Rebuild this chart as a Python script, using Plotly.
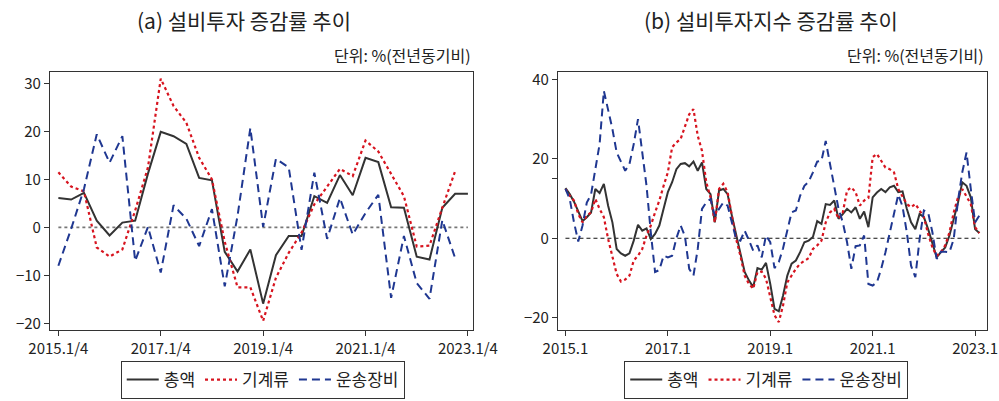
import plotly.graph_objects as go

# ---------------- data ----------------
q_tick_labels = ["2015.1/4", "2017.1/4", "2019.1/4", "2021.1/4", "2023.1/4"]
q_tick_pos = [0, 8, 16, 24, 32]

total_a = [6.1, 5.8, 7.2, 1.4, -1.7, 1.0, 1.4, 11.2, 19.9, 19.0, 17.4, 10.3, 9.8, -5.1, -9.2,
           -4.6, -15.9, -5.8, -1.8, -1.8, 6.5, 5.1, 10.9, 6.7, 14.5, 13.6, 4.2, 4.1, -6.1, -6.7,
           4.1, 7.0, 7.0]
mach_a = [11.5, 8.5, 7.5, -4.2, -6.1, -4.6, 3.5, 12.5, 31.0, 25.3, 21.8, 14.5, 10.0, -3.0, -12.5,
          -12.5, -19.5, -10.5, -5.3, -1.1, 4.8, 8.6, 12.2, 10.7, 18.1, 15.8, 11.0, 6.5, -4.0, -3.8,
          4.1, 11.7]
trans_a = [-8.0, -0.3, 8.0, 19.4, 13.5, 19.0, -7.0, 0.1, -9.4, 4.6, 1.8, -3.9, 3.8, -12.3, 2.4,
           20.7, 0.1, 14.3, 12.5, -4.7, 11.4, -2.4, 6.1, -1.5, 3.0, 6.8, -14.7, -1.8, -11.6, -14.9,
           1.5, -6.4]

m_tick_labels = ["2015.1", "2017.1", "2019.1", "2021.1", "2023.1"]
m_tick_pos = [0, 24, 48, 72, 96]

total_b = [12.6, 11.1, 9.2, 6.5, 4.3, 5.3, 6.5, 12.4, 11.4, 13.7, 8.2, 4.0, -2.7, -3.8, -4.4, -3.8,
           -0.6, 3.4, 1.9, 2.5, -0.2, 1.1, 3.2, 7.4, 11.6, 14.1, 17.4, 18.7, 18.9, 18.1, 19.3, 17.0,
           19.1, 12.4, 11.1, 4.0, 12.0, 12.4, 11.1, 5.7, 0.7, -3.9, -8.5, -10.6, -12.3, -7.5, -7.9,
           -6.2, -11.5, -17.8, -18.4, -14.4, -9.4, -6.4, -5.6, -3.5, -1.0, -0.6, 0.3, 4.3, 3.6, 8.6,
           8.4, 9.5, 4.9, 6.1, 7.4, 6.5, 7.8, 4.9, 6.7, 2.8, 10.3, 11.5, 12.4, 11.6, 12.8, 13.2,
           11.6, 11.8, 7.4, 4.0, 2.3, 6.1, 5.3, 2.3, -1.4, -4.8, -3.5, -2.3, 0.7, 4.9, 9.0, 14.1,
           13.2, 10.3, 2.3, 1.3]
mach_b = [12.4, 10.7, 9.5, 6.1, 4.0, 5.7, 6.5, 9.9, 7.4, 5.3, -0.2, -4.8, -9.0, -10.9, -10.4, -9.4,
          -5.6, -4.4, -2.7, 0.7, 3.2, 6.5, 9.5, 13.2, 16.6, 22.9, 24.1, 25.0, 27.9, 31.2, 32.5, 25.8,
          22.0, 14.1, 10.3, 4.0, 12.4, 13.7, 11.6, 6.1, -0.2, -4.4, -9.4, -11.5, -12.7, -8.5, -8.4,
          -10.2, -15.0, -19.4, -21.1, -16.9, -11.1, -9.4, -7.7, -6.4, -5.6, -5.0, -2.7, -1.8, -0.6,
          4.0, 6.5, 7.4, 4.9, 6.5, 12.0, 12.8, 11.6, 8.2, 9.5, 10.1, 20.4, 21.2, 19.5, 17.8, 17.4,
          16.6, 12.4, 10.3, 8.6, 7.8, 8.6, 7.0, 5.3, 1.1, -2.3, -4.4, -3.5, -1.8, 1.5, 6.5, 10.3,
          12.4, 10.3, 8.6, 2.8, 1.3]
trans_b = [12.4, 9.9, 4.0, -0.8, 3.2, 9.0, 11.0, 17.4, 23.7, 37.1, 32.5, 27.5, 21.6, 19.1, 17.0,
           18.7, 23.7, 30.0, 21.6, 13.2, 1.5, -8.5, -8.0, -4.4, -4.8, -4.4, 0.0, 3.2, 0.5, -7.7,
           -9.4, -2.7, 7.4, 9.0, 9.9, 5.7, 7.4, 9.0, 8.2, 4.0, -0.2, -0.6, 1.9, -0.5, -3.1, -1.8,
           -4.8, 0.7, -1.0, -7.5, -6.0, -2.5, 2.0, 6.5, 7.0, 10.7, 13.2, 14.2, 16.6, 19.3, 19.5,
           24.5, 18.7, 13.2, 7.4, 4.0, -1.0, -7.7, -2.0, -1.8, 0.7, -11.5, -11.9, -11.1, -7.7, -3.5,
           1.5, 5.7, 11.0, 8.0, 1.5, -6.9, -9.8, -0.2, 7.0, 6.5, 1.5, -5.2, -3.4, -3.4, -3.5, -0.2,
           9.5, 16.6, 21.6, 12.4, 4.0, 5.7]

series_names = ["총액", "기계류", "운송장비"]

# ---------------- styles ----------------
FONT = "Noto Sans CJK KR"
C_TOTAL = "#333333"
C_MACH = "#d7141f"
C_TRANS = "#1f3791"
styles = [
    dict(color=C_TOTAL, width=2, dash="solid"),
    dict(color=C_MACH, width=2.2, dash="dot"),
    dict(color=C_TRANS, width=2, dash="8px,5px"),
]

fig = go.Figure()

for name, ys, st in zip(series_names, [total_a, mach_a, trans_a], styles):
    fig.add_trace(go.Scatter(x=list(range(len(ys))), y=ys, mode="lines", name=name,
                             line=st, xaxis="x", yaxis="y", legend="legend"))
for name, ys, st in zip(series_names, [total_b, mach_b, trans_b], styles):
    fig.add_trace(go.Scatter(x=list(range(len(ys))), y=ys, mode="lines", name=name,
                             line=st, xaxis="x2", yaxis="y2", legend="legend2"))

# zero reference lines
fig.add_shape(type="line", xref="x", yref="y", x0=0, x1=len(total_a) - 1, y0=0, y1=0,
              line=dict(color="#777777", width=1.6, dash="3px,3px"), layer="below")
fig.add_shape(type="line", xref="x2", yref="y2", x0=0, x1=len(total_b) - 1, y0=0, y1=0,
              line=dict(color="#111111", width=1, dash="4px,3px"), layer="below")

tickfont = dict(family=FONT, size=15, color="#222222")
ax_common = dict(showline=True, mirror=True, linecolor="#333333", linewidth=1.3,
                 showgrid=False, zeroline=False, ticks="outside", ticklen=5,
                 tickcolor="#333333", tickfont=tickfont, automargin=False)

legend_common = dict(orientation="h", yanchor="bottom", xanchor="center", y=0.005,
                     bordercolor="#333333", borderwidth=1, bgcolor="white",
                     font=dict(family=FONT, size=17, color="#222222"),
                     itemwidth=32, tracegroupgap=0)

fig.update_layout(
    width=999, height=401,
    margin=dict(l=0, r=0, t=0, b=0, autoexpand=False),
    paper_bgcolor="white", plot_bgcolor="white",
    font=dict(family=FONT, color="#222222"),
    xaxis=dict(domain=[0.0501, 0.4735], range=[-0.65, 32.4], tickmode="array",
               tickvals=q_tick_pos, ticktext=q_tick_labels, anchor="y", **ax_common),
    yaxis=dict(domain=[0.177, 0.820], range=[-21.4, 32.35], tickmode="array",
               tickvals=[-20, -10, 0, 10, 20, 30], anchor="x", **ax_common),
    xaxis2=dict(domain=[0.5586, 0.988], range=[-1.74, 98.8], tickmode="array",
                tickvals=m_tick_pos, ticktext=m_tick_labels, anchor="y2", **ax_common),
    yaxis2=dict(domain=[0.177, 0.820], range=[-23.1, 41.8], tickmode="array",
                tickvals=[-20, 0, 15, 20, 40], ticktext=["−20", "0", "", "20", "40"],
                anchor="x2", **ax_common),
    legend=dict(x=0.263, **legend_common),
    legend2=dict(x=0.767, **legend_common),
    showlegend=True,
)

fig.add_annotation(text="(a) 설비투자 증감률 추이", xref="paper", yref="paper", x=0.244, y=0.950,
                   xanchor="center", yanchor="middle", showarrow=False,
                   font=dict(family=FONT, size=21, color="#222222"))
fig.add_annotation(text="(b) 설비투자지수 증감률 추이", xref="paper", yref="paper", x=0.772, y=0.950,
                   xanchor="center", yanchor="middle", showarrow=False,
                   font=dict(family=FONT, size=21, color="#222222"))
fig.add_annotation(text="단위: %(전년동기비)", xref="paper", yref="paper", x=0.4735, y=0.863,
                   xanchor="right", yanchor="middle", showarrow=False,
                   font=dict(family=FONT, size=16, color="#222222"))
fig.add_annotation(text="단위: %(전년동기비)", xref="paper", yref="paper", x=0.987, y=0.863,
                   xanchor="right", yanchor="middle", showarrow=False,
                   font=dict(family=FONT, size=16, color="#222222"))

fig.write_html("out.html", config={"displayModeBar": False},
               post_script="document.body.style.margin='0px';")
